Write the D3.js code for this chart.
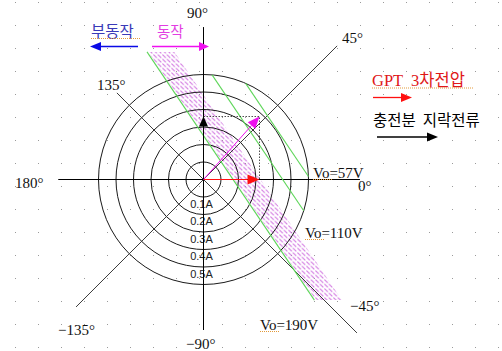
<!DOCTYPE html>
<html>
<head>
<meta charset="utf-8">
<script src="https://cdn.jsdelivr.net/npm/d3@7"></script>
<style>
  html, body { margin: 0; padding: 0; background: #fff; }
  svg { display: block; }
  text { white-space: pre; }
</style>
</head>
<body>
<svg id="chart" width="502" height="351"></svg>
<script>
// ---- data (currents in A, angles in degrees) ----
const ringValues   = [0.1, 0.2, 0.3, 0.4, 0.5, 0.6];
const ringLabels   = ["0.1A", "0.2A", "0.3A", "0.4A", "0.5A"];
const spokeAngles  = [0, 45, 90, 135, 180, -135, -90, -45];
const spokeLengths = [0.894, 1.08, 0.871, 0.70, 0.83, 1.03, 0.86, 1.24];
const angleLabels  = ["0°", "45°", "90°", "135°", "180°", "−135°", "−90°", "−45°"];
const voLabels     = ["Vo=190V", "Vo=110V", "Vo=57V"];
const voOffsets    = [0.14, 0.375, 0.507];   // distance of each boundary from origin
const boundaryNormal = 34;                   // direction normal to the boundaries
const hatchOffsets = [0.146, 0.27];          // operating band next to the 190V boundary
const bandLimits   = [-0.689, 0.729];        // vertical extent of band / first boundary
const gptVoltage   = 0.32;                   // along 0°
const chargeCurrent = 0.36;                  // along 90°
const legendItems  = ["GPT  3차전압", "충전분  지락전류"];
const sideLabels   = ["부동작", "동작"];

// ---- layout ----
const W = 502, H = 351;
const cx = 203.5, cy = 179.5, unit = 175;
const x = d3.scaleLinear().domain([0, 1]).range([cx, cx + unit]);
const y = d3.scaleLinear().domain([0, 1]).range([cy, cy - unit]);
const r = d3.scaleLinear().domain([0, 1]).range([0, unit]);
const rad = d => d * Math.PI / 180;
const polar = (ang, len) => [x(len * Math.cos(rad(ang))), y(len * Math.sin(rad(ang)))];

const serif = "'Liberation Serif', 'Noto Sans CJK KR', serif";
const kor = "'Noto Sans CJK KR', 'Liberation Serif', sans-serif";

const svg = d3.select("#chart");
svg.append("rect").attr("width", W).attr("height", H).attr("fill", "#fff");

// dotted page grid
const gridX = d3.range(15, W, 23), gridY = d3.range(2, H, 23);
const dots = svg.append("g");
gridX.forEach(px => gridY.forEach(py => {
  dots.append("rect").attr("x", px).attr("y", py).attr("width", 1).attr("height", 1).attr("fill", "#9a9a9a");
}));

// hatch pattern: rows of short back-slash strokes
const defs = svg.append("defs");
const pat = defs.append("pattern").attr("id", "hatch").attr("patternUnits", "userSpaceOnUse")
  .attr("width", 4.5).attr("height", 4.5);
pat.append("path").attr("d", "M0.4,0.6 L3.9,3.9").attr("stroke", "#cc66dd").attr("stroke-width", 1);

// points on a boundary (normal angle, offset) at data height yy
const nx = Math.cos(rad(boundaryNormal)), ny = Math.sin(rad(boundaryNormal));
const atY = (off, yy) => [(off - yy * ny) / nx, yy];
const band = [
  atY(hatchOffsets[0], bandLimits[1]), atY(hatchOffsets[1], bandLimits[1]),
  atY(hatchOffsets[1], bandLimits[0]), atY(hatchOffsets[0], bandLimits[0])
];
svg.append("path")
  .attr("d", "M" + band.map(p => [x(p[0]), y(p[1])].join(",")).join("L") + "Z")
  .attr("fill", "url(#hatch)");

// rings
svg.append("g").selectAll("circle").data(ringValues).join("circle")
  .attr("cx", x(0)).attr("cy", y(0)).attr("r", d => r(d))
  .attr("fill", "none").attr("stroke", "#1a1a1a").attr("stroke-width", 1);

// ring labels under the origin
svg.append("g").selectAll("text").data(ringLabels).join("text")
  .attr("x", x(0) - 2).attr("y", (d, i) => y(-ringValues[i]) + 10.5)
  .attr("text-anchor", "middle")
  .attr("font-family", "'Liberation Sans', sans-serif").attr("font-size", 11)
  .attr("fill", "#222").text(d => d);

// spokes
svg.append("g").selectAll("line").data(spokeAngles).join("line")
  .attr("x1", x(0)).attr("y1", y(0))
  .attr("x2", (d, i) => polar(d, spokeLengths[i])[0])
  .attr("y2", (d, i) => polar(d, spokeLengths[i])[1])
  .attr("stroke", d => d % 90 === 0 ? "#000" : "#3c3c3c").attr("stroke-width", 1);

// angle labels
const angleLabelPos = [[154.5, 11.5], [138.5, -136.5], [-16.5, -161.5], [-106.5, -89.5],
  [-188.5, 8.5], [-145.5, 155.5], [-17.5, 169.5], [146.5, 131.5]];
svg.append("g").selectAll("text").data(angleLabels).join("text")
  .attr("x", (d, i) => x(0) + angleLabelPos[i][0]).attr("y", (d, i) => y(0) + angleLabelPos[i][1])
  .attr("font-family", serif).attr("font-size", 15).attr("fill", "#111").text(d => d);

// operating boundaries
const outerR = d3.max(ringValues);
const boundarySegs = voOffsets.map((off, i) => {
  const fx = off * nx, fy = off * ny;
  if (i === 0) return [atY(off, bandLimits[1]), atY(off, bandLimits[0])];
  const h = Math.sqrt(outerR * outerR - off * off);
  return [[fx - h * ny, fy + h * nx], [fx + h * ny, fy - h * nx]];
});
svg.append("g").selectAll("line").data(boundarySegs).join("line")
  .attr("x1", d => x(d[0][0])).attr("y1", d => y(d[0][1]))
  .attr("x2", d => x(d[1][0])).attr("y2", d => y(d[1][1]))
  .attr("stroke", "#5fd65a").attr("stroke-width", 1.1);

// arrow helper
function arrow(g, x1, y1, x2, y2, color, len, wid, sw) {
  const a = Math.atan2(y2 - y1, x2 - x1);
  const bx = x2 - len * Math.cos(a), by = y2 - len * Math.sin(a);
  g.append("line").attr("x1", x1).attr("y1", y1).attr("x2", bx).attr("y2", by)
    .attr("stroke", color).attr("stroke-width", sw || 1);
  const px = -Math.sin(a) * wid / 2, py = Math.cos(a) * wid / 2;
  g.append("path").attr("d", `M${x2},${y2}L${bx + px},${by + py}L${bx - px},${by - py}Z`).attr("fill", color);
}

// vector diagram
const vec = svg.append("g");
const vx = x(gptVoltage), vy = y(chargeCurrent);
vec.append("path")
  .attr("d", `M${x(0)},${vy}L${vx},${vy}L${vx},${y(0)}`)
  .attr("fill", "none").attr("stroke", "#222").attr("stroke-width", 0.8).attr("stroke-dasharray", "1.5,1.5");
arrow(vec, x(0), y(0), vx, y(0), "#ff1010", 12, 10, 1);
arrow(vec, x(0), y(0), x(0), vy, "#000", 10, 9, 1);
arrow(vec, x(0), y(0), vx, vy, "#ee10ee", 12, 10, 1);

// boundary voltage labels
const voPos = [[260, 330], [305, 238], [313, 178]];
const voG = svg.append("g");
voLabels.forEach((t, i) => {
  voG.append("text").attr("x", voPos[i][0]).attr("y", voPos[i][1])
    .attr("font-family", serif).attr("font-size", 15).attr("fill", "#111").text(t);
  voG.append("line").attr("x1", voPos[i][0]).attr("x2", voPos[i][0] + 20)
    .attr("y1", voPos[i][1] + 1.5).attr("y2", voPos[i][1] + 1.5)
    .attr("stroke", "#e39a3a").attr("stroke-dasharray", "1,1");
});

// operate / non-operate markers
const sideG = svg.append("g");
sideG.append("text").attr("x", 91).attr("y", 37).attr("font-family", kor).attr("font-size", 15.5)
  .attr("fill", "#3a3ab8").text(sideLabels[0]);
sideG.append("line").attr("x1", 91).attr("x2", 141).attr("y1", 38.5).attr("y2", 38.5)
  .attr("stroke", "#e39a3a").attr("stroke-dasharray", "1,1");
arrow(sideG, 138, 46.5, 90, 46.5, "#0a0ae6", 11, 9, 1.3);
sideG.append("text").attr("x", 157).attr("y", 37).attr("font-family", kor).attr("font-size", 14.5)
  .attr("fill", "#e23ee2").text(sideLabels[1]);
arrow(sideG, 152, 46.5, 209, 46.5, "#f010f0", 10, 9, 1.3);

// legend
const leg = svg.append("g");
leg.append("text").attr("x", 372).attr("y", 86).attr("font-family", serif).attr("font-size", 16.5)
  .attr("fill", "#e01818").text(legendItems[0]);
leg.append("line").attr("x1", 372).attr("x2", 474).attr("y1", 88).attr("y2", 88)
  .attr("stroke", "#e39a3a").attr("stroke-dasharray", "1,1");
arrow(leg, 373, 97.5, 412, 97.5, "#ff1010", 11, 9, 1.3);
leg.append("text").attr("x", 373).attr("y", 126).attr("font-family", kor).attr("font-size", 15.5)
  .attr("fill", "#000").text(legendItems[1]);
arrow(leg, 377, 137, 438, 137, "#000", 11, 9, 1.3);
</script>
</body>
</html>
